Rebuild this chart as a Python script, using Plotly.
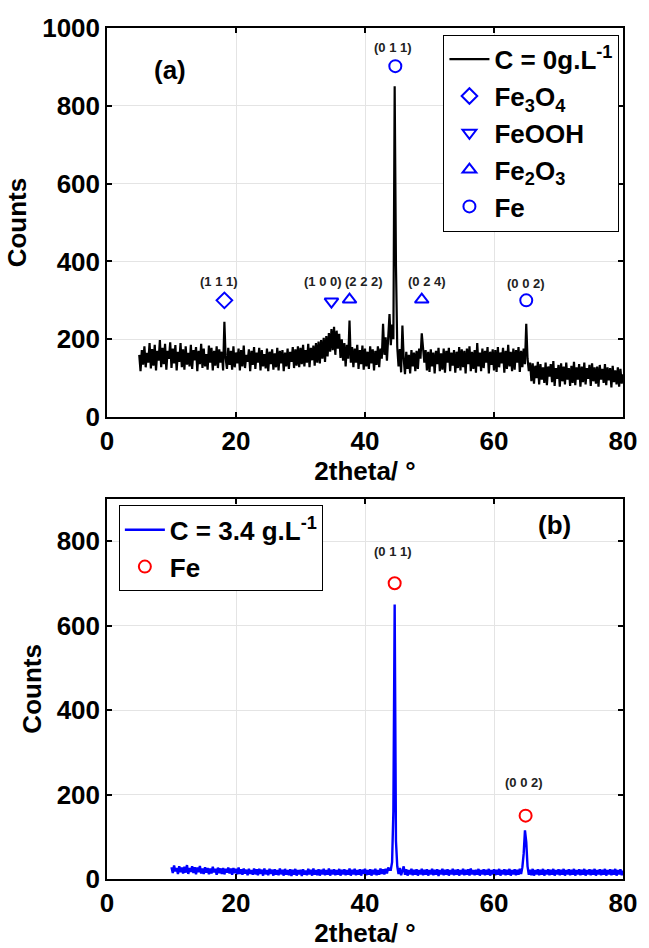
import numpy as np
import plotly.graph_objects as go

# ---------------- data ----------------
# panel (a): C = 0 g/L, 2theta from 5 to 80 in steps of 0.2
a_start, a_step = 5.0, 0.2
a_counts = [
    160,118,172,135,182, 128,165,140,190,125, 175,132,186,120,170, 145,198,128,178,136,
    188,122,170,150,192, 126,176,138,185,120, 168,142,190,128,174, 122,182,135,165,130,
    186,124,172,146,180, 118,170,136,188,126, 176,130,162,122,184, 140,178,120,170,132,
    182,126,174,140,168, 120,245,150,124,178, 134,170,122,182,128, 166,138,176,120,172,
    130,184,126,160,142, 174,118,170,134,180, 124,166,140,178,120, 172,130,162,125,176,
    118,168,136,174,122, 164,128,178,120,170, 138,172,118,166,130, 176,124,168,142,180,
    126,174,132,182,128, 178,136,186,130,172, 140,188,128,178,146, 184,132,190,140,194,
    138,198,150,204,142, 208,156,216,168,226, 172,232,160,222,176, 214,152,200,145,190,
    130,186,150,248,140, 180,128,176,140,186, 124,172,136,184,122, 176,130,168,124,182,
    138,174,120,170,134, 182,128,176,150,240, 160,205,145,228,265, 185,238,200,850,390,
    180,130,175,115,235, 150,110,168,124,160, 112,172,130,166,118, 170,124,176,150,215,
    185,140,172,120,168, 116,174,130,166,112, 170,136,178,118,164, 122,176,114,170,140,
    178,118,166,132,172, 114,168,126,180,120, 174,128,170,112,176, 136,182,118,168,124,
    172,114,190,130,166, 118,176,126,170,140, 180,112,168,134,174, 120,172,116,180,128,
    166,138,178,114,170, 124,186,130,168,118, 176,122,172,140,180, 116,170,128,176,136,
    240,150,118,140,92, 138,86,132,100,142, 84,136,96,128,88, 140,82,130,104,136,
    90,144,80,126,98, 134,78,138,92,130, 84,140,96,126,80, 132,88,142,82,128,
    96,136,78,130,90, 140,84,126,98,134, 80,138,92,128,86, 130,78,134,96,124,
    88,136,82,128,94, 126,76,132,90,120, 84,128,78,124,86, 110,
]
a_x = a_start + a_step * np.arange(len(a_counts))

# panel (b): C = 3.4 g/L, 2theta from 10 to 80 in steps of 0.2
b_start, b_step = 10.0, 0.2
b_counts = [
    28,14,32,18,26, 12,30,16,27,13, 29,15,33,12,26, 17,30,14,28,11, 27,16,31,13,25,
    12,28,15,26,11, 25,13,29,16,24, 10,27,14,25,12, 26,11,24,15,27, 13,25,10,26,14,
    24,11,27,12,23, 10,25,13,22,9, 24,12,21,10,25, 11,23,9,24,12, 22,8,25,11,21,
    9,24,12,22,8, 23,10,21,9,25, 11,22,8,24,10, 21,9,23,7,22, 10,24,8,21,11,
    22,7,23,10,20, 9,24,11,22,8, 25,10,21,9,23, 8,22,11,24,9, 21,10,25,8,22,
    11,23,9,21,10, 24,8,22,11,23, 9,21,10,25,8, 22,11,24,9,21, 10,23,8,22,12,
    24,9,21,10,23, 8,22,11,24,9, 21,10,25,12,23, 11,24,13,27,22, 22,40,160,650,90,
    30,12,26,9,22, 30,10,23,8,21, 11,24,9,22,10, 23,8,21,11,24, 9,22,10,23,8,
    21,11,24,9,22, 10,23,7,21,11, 24,9,22,10,23, 8,21,11,24,9, 22,10,23,8,21,
    11,24,9,22,10, 23,8,25,11,21, 9,22,10,24,8, 21,11,23,9,22, 10,24,8,21,11,
    23,9,22,10,24, 8,21,11,23,9, 22,10,24,8,21, 11,23,9,22,10, 24,12,28,60,115,
    88,30,10,22,9, 24,8,21,11,23, 9,22,10,24,8, 21,11,23,9,22, 10,24,8,21,11,
    23,9,22,10,24, 8,21,11,23,9, 22,10,24,8,21, 11,23,9,22,10, 24,8,21,11,23,
    9,22,10,24,8, 21,11,23,9,22, 10,24,8,21,11, 23,9,22,10,24, 8,21,11,23,9, 20,
]
b_x = b_start + b_step * np.arange(len(b_counts))

# phase markers, panel (a)
fe3o4_x, fe3o4_y = [18.2], [300]
feooh_x, feooh_y = [34.8], [297]
fe2o3_x, fe2o3_y = [37.6, 48.8], [302, 302]
fe_a_x, fe_a_y = [44.7, 65.0], [902, 300]
hkl_a_text = ["(1 1 1)", "(1 0 0)", "(2 2 2)", "(0 1 1)", "(0 2 4)", "(0 0 2)"]
hkl_a_x = [17.3, 33.5, 39.8, 44.3, 49.6, 64.9]
hkl_a_y = [348, 348, 348, 950, 348, 344]

# phase markers, panel (b)
fe_b_x, fe_b_y = [44.6, 64.9], [700, 150]
hkl_b_text = ["(0 1 1)", "(0 0 2)"]
hkl_b_x = [44.4, 64.6]
hkl_b_y = [776, 228]

x_ticks = [0, 20, 40, 60, 80]

# ---------------- figure ----------------
FONT = "Liberation Sans, Arial, Helvetica, sans-serif"
BLUE = "#0000ff"

fig = go.Figure()

fig.add_trace(go.Scatter(x=a_x, y=a_counts, mode="lines",
                         line=dict(color="black", width=2.2),
                         name="C = 0g.L<sup>-1</sup>", legend="legend",
                         xaxis="x", yaxis="y"))
mk = dict(size=12, line=dict(width=2, color=BLUE), color=BLUE)
fig.add_trace(go.Scatter(x=fe3o4_x, y=fe3o4_y, mode="markers",
                         marker=dict(symbol="diamond-open", **mk),
                         name="Fe<sub>3</sub>O<sub>4</sub>", legend="legend",
                         xaxis="x", yaxis="y"))
fig.add_trace(go.Scatter(x=feooh_x, y=feooh_y, mode="markers",
                         marker=dict(symbol="triangle-down-open", **mk),
                         name="FeOOH", legend="legend", xaxis="x", yaxis="y"))
fig.add_trace(go.Scatter(x=fe2o3_x, y=fe2o3_y, mode="markers",
                         marker=dict(symbol="triangle-up-open", **mk),
                         name="Fe<sub>2</sub>O<sub>3</sub>", legend="legend",
                         xaxis="x", yaxis="y"))
fig.add_trace(go.Scatter(x=fe_a_x, y=fe_a_y, mode="markers",
                         marker=dict(symbol="circle-open", **mk),
                         name="Fe", legend="legend", xaxis="x", yaxis="y"))

fig.add_trace(go.Scatter(x=b_x, y=b_counts, mode="lines",
                         line=dict(color=BLUE, width=2.4),
                         name="C = 3.4 g.L<sup>-1</sup>", legend="legend2",
                         xaxis="x2", yaxis="y2"))
fig.add_trace(go.Scatter(x=fe_b_x, y=fe_b_y, mode="markers",
                         marker=dict(symbol="circle-open", size=12,
                                     line=dict(width=2, color="red"), color="red"),
                         name="Fe", legend="legend2", xaxis="x2", yaxis="y2"))

annotations = []
for t, x, y in zip(hkl_a_text, hkl_a_x, hkl_a_y):
    annotations.append(dict(x=x, y=y, xref="x", yref="y", text=t, showarrow=False,
                            font=dict(family=FONT, size=13, color="#222", weight="bold")))
for t, x, y in zip(hkl_b_text, hkl_b_x, hkl_b_y):
    annotations.append(dict(x=x, y=y, xref="x2", yref="y2", text=t, showarrow=False,
                            font=dict(family=FONT, size=13, color="#222", weight="bold")))
annotations.append(dict(x=9.8, y=893, xref="x", yref="y", text="(a)", showarrow=False,
                        font=dict(family=FONT, size=26, color="black", weight="bold")))
annotations.append(dict(x=69.4, y=837, xref="x2", yref="y2", text="(b)", showarrow=False,
                        font=dict(family=FONT, size=26, color="black", weight="bold")))

tickfont = dict(family=FONT, size=26, color="black", weight="bold")
titlefont = dict(family=FONT, size=26, color="black", weight="bold")
common_x = dict(range=[0, 80], tickvals=x_ticks, ticks="inside", ticklen=5,
                tickcolor="black", tickwidth=1.5, showline=True, linecolor="black",
                linewidth=1.5, mirror="ticks", showgrid=True, gridcolor="#e4e4e4",
                gridwidth=1, zeroline=False, tickfont=tickfont,
                title=dict(text="2theta/ °", font=titlefont, standoff=0))
common_y = dict(ticks="inside", ticklen=5, tickcolor="black", tickwidth=1.5,
                showline=True, linecolor="black", linewidth=1.5, mirror="ticks",
                showgrid=True, gridcolor="#e4e4e4", gridwidth=1, zeroline=False,
                tickfont=tickfont, dtick=200,
                title=dict(text="Counts", font=titlefont, standoff=8))

legfont = dict(family=FONT, size=26, color="black", weight="bold")
fig.update_layout(
    width=649, height=948,
    margin=dict(l=107, r=18, t=28, b=56),
    paper_bgcolor="white", plot_bgcolor="white",
    font=dict(family=FONT, color="black"),
    xaxis=dict(domain=[0, 1], anchor="y", **common_x),
    yaxis=dict(domain=[0.5428, 1], anchor="x", range=[0, 1000], **common_y),
    xaxis2=dict(domain=[0, 1], anchor="y2", **common_x),
    yaxis2=dict(domain=[0, 0.4468], anchor="x2", range=[0, 900], **common_y),
    legend=dict(x=0.652, y=0.992, xanchor="left", yanchor="top",
                bgcolor="white", bordercolor="black", borderwidth=1,
                font=legfont, tracegroupgap=0, itemwidth=40),
    legend2=dict(x=0.023, y=0.439, xanchor="left", yanchor="top",
                 bgcolor="white", bordercolor="black", borderwidth=1,
                 font=legfont, tracegroupgap=0, itemwidth=40),
    annotations=annotations,
    showlegend=True,
)

fig.write_html("out.html")
